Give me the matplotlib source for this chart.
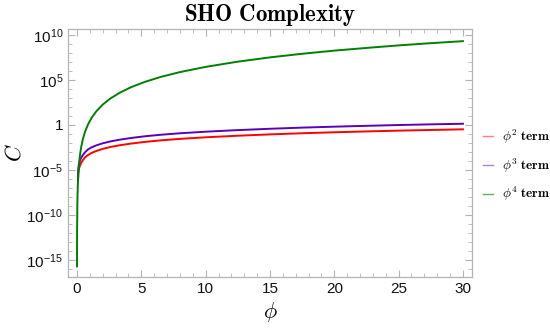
import math

import matplotlib
matplotlib.use("Agg")
import matplotlib.pyplot as plt
from matplotlib.ticker import FixedLocator, FuncFormatter, MultipleLocator, NullFormatter

# values: phi on x, complexity C on a log y axis
phi_green = [0.002, 0.005, 0.01, 0.03, 0.06, 0.1, 0.15, 0.23, 0.33, 0.45, 0.62, 0.85,
             1.14, 1.5, 2.0, 2.6, 3.3, 4.2, 5.3, 6.5, 8.0, 10.0, 12.5, 15.0, 17.5,
             20.0, 22.5, 25.0, 27.5, 30.0]
c_green = [1.9e-16, 4.5e-14, 2.9e-12, 2.1e-9, 1.35e-7, 2.9e-6, 3.3e-5, 4.3e-4, 3.7e-3,
           0.024, 0.165, 1.09, 6.4, 33, 186, 896, 3.7e3, 1.6e4, 6.4e4, 2.2e5, 7.6e5,
           2.9e6, 1.1e7, 3.3e7, 8.3e7, 1.86e8, 3.7e8, 7.1e8, 1.25e9, 2.1e9]

phi_purple = [0.08, 0.1, 0.15, 0.23, 0.33, 0.45, 0.62, 0.85, 1.14, 1.5,
              2.0, 2.6, 3.3, 4.2, 5.3, 6.5, 8.0, 10.0, 12.5, 15.0, 17.5, 20.0, 22.5,
              25.0, 27.5, 30.0]
c_purple = [8e-7, 1.2e-5, 4.5e-5, 1.2e-4, 2.3e-4, 4.5e-4, 9e-4, 1.9e-3,
            3.3e-3, 5.4e-3, 9.2e-3, 0.015, 0.023, 0.036, 0.056, 0.082, 0.12, 0.18,
            0.27, 0.38, 0.51, 0.65, 0.81, 0.99, 1.18, 1.38]

phi_red = [0.08, 0.1, 0.15, 0.23, 0.33, 0.45, 0.62, 0.85, 1.14, 1.5,
           2.0, 2.6, 3.3, 4.2, 5.3, 6.5, 8.0, 10.0, 12.5, 15.0, 17.5, 20.0, 22.5,
           25.0, 27.5, 30.0]
c_red = [8e-7, 5e-6, 1.3e-5, 3e-5, 6.5e-5, 1.2e-4, 2.5e-4, 4.5e-4,
         7.9e-4, 1.29e-3, 2.2e-3, 3.6e-3, 5.5e-3, 8.6e-3, 0.0133, 0.0195, 0.0286,
         0.043, 0.064, 0.09, 0.121, 0.155, 0.193, 0.236, 0.28, 0.33]

labels = [r"$\phi^{\mathbf{2}}$ $\mathbf{term}$",
          r"$\phi^{\mathbf{3}}$ $\mathbf{term}$",
          r"$\phi^{\mathbf{4}}$ $\mathbf{term}$"]
y_major = [1e-15, 1e-10, 1e-5, 1, 1e5, 1e10]
y_minor = [10.0 ** k for k in range(-16, 11)]

plt.rcParams["mathtext.fontset"] = "custom"
plt.rcParams["mathtext.rm"] = "Liberation Sans"
plt.rcParams["mathtext.it"] = "Liberation Sans:italic"
plt.rcParams["mathtext.bf"] = "Liberation Sans:bold"
plt.rcParams["font.family"] = ["Liberation Sans", "DejaVu Sans"]

frame_col = "#b4b4b4"

fig = plt.figure(figsize=(5.5, 3.28), dpi=100)
ax = fig.add_axes([0.1236, 0.1555, 0.7345, 0.756])

ax.plot(phi_red, c_red, color="#ff0000", lw=1.4, label=labels[0])
ax.plot(phi_purple, c_purple, color="#5a00b8", lw=1.4, label=labels[1])
ax.plot(phi_green, c_green, color="#008000", lw=1.4, label=labels[2])

ax.set_yscale("log")
ax.set_xlim(-0.7, 30.7)
ax.set_ylim(10 ** -16.9, 10 ** 10.67)

ax.xaxis.set_major_locator(MultipleLocator(5))
ax.xaxis.set_minor_locator(MultipleLocator(1))
ax.yaxis.set_major_locator(FixedLocator(y_major))
ax.yaxis.set_minor_locator(FixedLocator(y_minor))
ax.yaxis.set_minor_formatter(NullFormatter())


def fmt_y(v, pos):
    if v == 1:
        return "1"
    return r"$10^{%d}$" % int(round(math.log10(v)))


ax.yaxis.set_major_formatter(FuncFormatter(fmt_y))

for s in ax.spines.values():
    s.set_color(frame_col)
    s.set_linewidth(0.9)
ax.tick_params(which="both", direction="in", top=True, right=True, color=frame_col,
               labelsize=11, labelcolor="#111111")
ax.tick_params(which="major", length=5, width=0.8)
ax.tick_params(which="minor", length=2.8, width=0.6)

ax.set_xlabel(r"$\phi$", fontsize=16, math_fontfamily="cm", labelpad=3)
ax.set_ylabel(r"$C$", fontsize=16, math_fontfamily="cm", rotation=90)
ax.yaxis.set_label_coords(-0.105, 0.5)
ax.set_title(r"$\mathbf{SHO\ Complexity}$", fontsize=16.5, math_fontfamily="cm", pad=6)

leg = ax.legend(loc="center left", bbox_to_anchor=(1.014, 0.45), frameon=False,
                borderaxespad=0, handlelength=0.8, handletextpad=0.65,
                labelspacing=0.8, fontsize=9.5)
for t in leg.get_texts():
    t.set_math_fontfamily("cm")
for h, c in zip(leg.get_lines(), ["#ff8080", "#a880e0", "#60b060"]):
    h.set_color(c)
    h.set_linewidth(1.0)

fig.savefig("out.png", dpi=100)
